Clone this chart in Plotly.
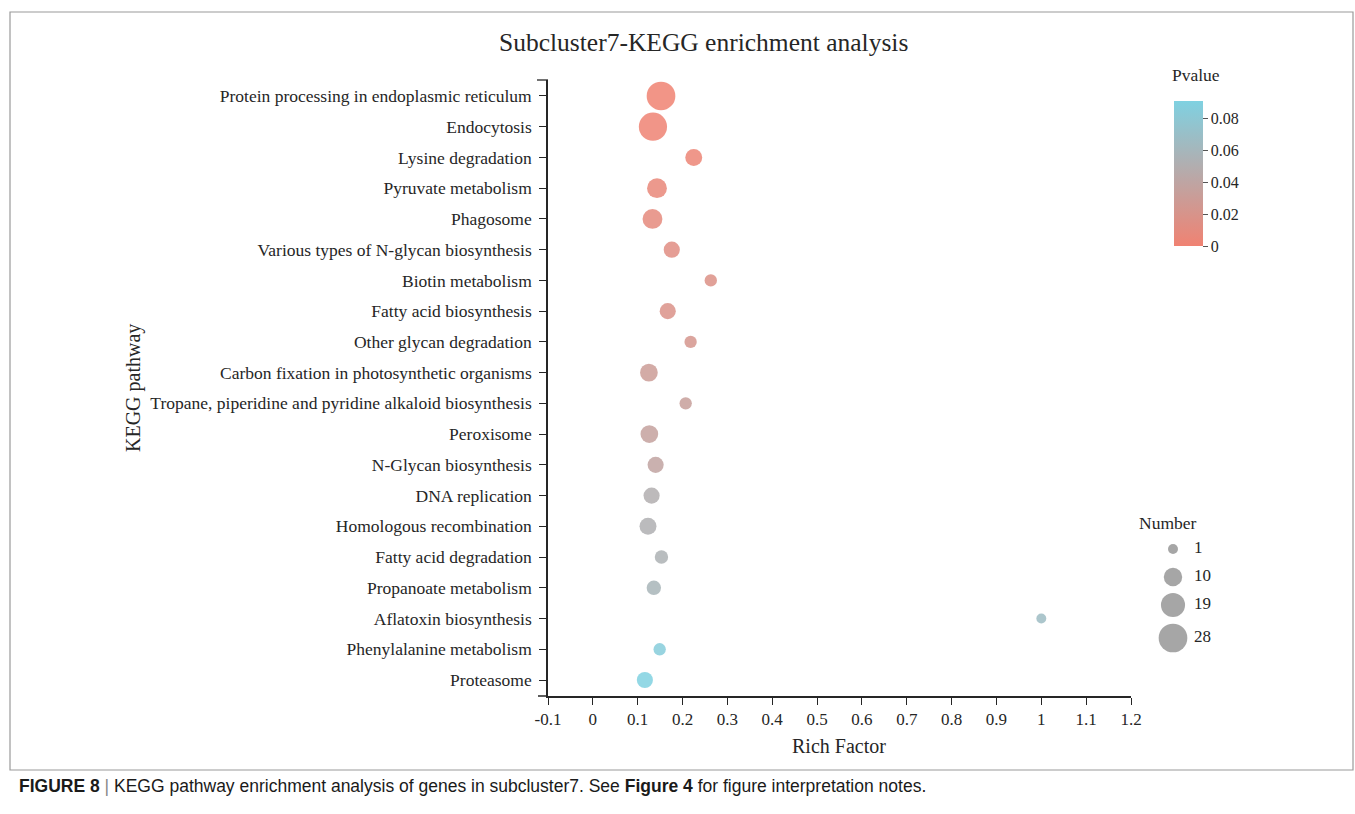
import plotly.graph_objects as go

W, H = 1355, 814

# ---------------- data (top to bottom as in the chart) ----------------
pathways = [
    "Protein processing in endoplasmic reticulum",
    "Endocytosis",
    "Lysine degradation",
    "Pyruvate metabolism",
    "Phagosome",
    "Various types of N-glycan biosynthesis",
    "Biotin metabolism",
    "Fatty acid biosynthesis",
    "Other glycan degradation",
    "Carbon fixation in photosynthetic organisms",
    "Tropane, piperidine and pyridine alkaloid biosynthesis",
    "Peroxisome",
    "N-Glycan biosynthesis",
    "DNA replication",
    "Homologous recombination",
    "Fatty acid degradation",
    "Propanoate metabolism",
    "Aflatoxin biosynthesis",
    "Phenylalanine metabolism",
    "Proteasome",
]
rich_factor = [0.152, 0.134, 0.225, 0.143, 0.133, 0.176, 0.263, 0.167, 0.218, 0.125,
               0.207, 0.126, 0.140, 0.131, 0.123, 0.153, 0.136, 1.000, 0.149, 0.116]
gene_number = [28, 27, 8, 12, 12, 7, 3, 7, 3, 9,
               3, 9, 7, 7, 8, 4, 5, 1, 3, 7]
pvalue = [0.000, 0.001, 0.003, 0.006, 0.009, 0.013, 0.016, 0.018, 0.022, 0.030,
          0.033, 0.035, 0.038, 0.050, 0.052, 0.054, 0.058, 0.066, 0.085, 0.090]

x_ticks = [-0.1, 0, 0.1, 0.2, 0.3, 0.4, 0.5, 0.6, 0.7, 0.8, 0.9, 1, 1.1, 1.2]
x_tick_labels = ["-0.1", "0", "0.1", "0.2", "0.3", "0.4", "0.5", "0.6", "0.7", "0.8",
                 "0.9", "1", "1.1", "1.2"]
p_ticks = [0, 0.02, 0.04, 0.06, 0.08]
p_tick_labels = ["0", "0.02", "0.04", "0.06", "0.08"]
legend_numbers = [1, 10, 19, 28]

# ---------------- styling helpers ----------------
SERIF = "Liberation Serif, Times New Roman, serif"
SANS = "Liberation Sans, Arial, sans-serif"
TXT = "#262626"
AX = "#262626"
COLORSCALE = [[0, "#F08272"], [1, "#7FD1E1"]]
P_MAX = 0.0905


def bubble_diameter(n):
    # area grows linearly with gene number
    return (72 + 26.8 * n) ** 0.5


def px_x(p):
    return p / W


def px_y(p):
    return 1 - p / H


# plot area in pixels
PL, PR, PT, PB = 548, 1131, 80, 696

fig = go.Figure()

cats = pathways[::-1]
fig.add_trace(go.Scatter(
    x=rich_factor[::-1],
    y=cats,
    mode="markers",
    marker=dict(
        size=[bubble_diameter(n) for n in gene_number[::-1]],
        sizemode="diameter",
        color=pvalue[::-1],
        colorscale=COLORSCALE,
        cmin=0, cmax=P_MAX,
        opacity=0.85,
        line=dict(width=0),
        showscale=True,
        colorbar=dict(
            x=px_x(1174), xanchor="left", xpad=0,
            y=px_y(101.5), yanchor="top", ypad=0,
            lenmode="pixels", len=145,
            thickness=29,
            outlinewidth=0,
            tickmode="array", tickvals=p_ticks, ticktext=p_tick_labels,
            ticks="outside", ticklen=5, tickcolor="#555",
            tickfont=dict(family=SERIF, size=16, color=TXT),
        ),
    ),
    hovertemplate="%{y}<br>Rich Factor %{x}<extra></extra>",
    showlegend=False,
    xaxis="x", yaxis="y",
))

# size legend (own small axes in pixel units)
LEG_Y = [549, 577, 605, 638]
fig.add_trace(go.Scatter(
    x=[1173] * len(legend_numbers),
    y=LEG_Y,
    mode="markers",
    marker=dict(size=[bubble_diameter(n) for n in legend_numbers], sizemode="diameter",
                color="#808080", line=dict(width=0)),
    showlegend=False, hoverinfo="skip",
    xaxis="x2", yaxis="y2",
))
fig.add_trace(go.Scatter(
    x=[1194] * len(legend_numbers),
    y=LEG_Y,
    mode="text",
    text=[str(v) for v in legend_numbers],
    textposition="middle right",
    textfont=dict(family=SERIF, size=17, color=TXT),
    showlegend=False, hoverinfo="skip",
    xaxis="x2", yaxis="y2",
))

fig.update_layout(
    width=W, height=H,
    autosize=False,
    margin=dict(l=0, r=0, t=0, b=0, autoexpand=False),
    paper_bgcolor="white", plot_bgcolor="white",
    xaxis=dict(
        domain=[px_x(PL), px_x(PR)],
        range=[-0.1, 1.2],
        tickmode="array", tickvals=x_ticks, ticktext=x_tick_labels,
        ticks="outside", ticklen=7, tickwidth=1.3, tickcolor=AX,
        showline=True, linecolor=AX, linewidth=1.5,
        showgrid=False, zeroline=False,
        tickfont=dict(family=SERIF, size=17, color=TXT),
        anchor="y",
    ),
    yaxis=dict(
        domain=[px_y(PB), px_y(PT)],
        type="category",
        categoryorder="array", categoryarray=cats,
        range=[-0.52, len(cats) - 1 + 0.52],
        ticks="outside", ticklen=7, tickwidth=1.3, tickcolor=AX,
        showline=True, linecolor=AX, linewidth=1.5,
        showgrid=False, zeroline=False,
        tickfont=dict(family=SERIF, size=17.5, color=TXT),
        ticklabelstandoff=4,
        anchor="x",
    ),
    xaxis2=dict(domain=[px_x(1140), px_x(1260)], range=[1140, 1260],
                visible=False, anchor="y2"),
    yaxis2=dict(domain=[px_y(660), px_y(530)], range=[660, 530],
                visible=False, anchor="x2"),
    shapes=[
        # figure frame
        dict(type="rect", xref="paper", yref="paper",
             x0=px_x(10), x1=px_x(1353), y0=px_y(770), y1=px_y(12),
             line=dict(color="#9a9a9a", width=1.2), fillcolor="rgba(0,0,0,0)", layer="below"),
        # end tick at top of y axis
        dict(type="line", xref="paper", yref="paper",
             x0=px_x(PL - 11), x1=px_x(PL), y0=px_y(PT), y1=px_y(PT),
             line=dict(color=AX, width=1.3)),
        # x axis line extension to the left
        dict(type="line", xref="paper", yref="paper",
             x0=px_x(PL - 10), x1=px_x(PL), y0=px_y(PB), y1=px_y(PB),
             line=dict(color=AX, width=1.5)),
    ],
    annotations=[
        dict(text="Subcluster7-KEGG enrichment analysis", xref="paper", yref="paper",
             x=px_x(704), y=px_y(42), xanchor="center", yanchor="middle", showarrow=False,
             font=dict(family=SERIF, size=25.5, color=TXT)),
        dict(text="Rich Factor", xref="paper", yref="paper",
             x=px_x(839), y=px_y(746), xanchor="center", yanchor="middle", showarrow=False,
             font=dict(family=SERIF, size=20, color=TXT)),
        dict(text="KEGG pathway", xref="paper", yref="paper", textangle=-90,
             x=px_x(133), y=px_y(388), xanchor="center", yanchor="middle", showarrow=False,
             font=dict(family=SERIF, size=20, color=TXT)),
        dict(text="Pvalue", xref="paper", yref="paper",
             x=px_x(1196), y=px_y(75), xanchor="center", yanchor="middle", showarrow=False,
             font=dict(family=SERIF, size=17.5, color=TXT)),
        dict(text="Number", xref="paper", yref="paper",
             x=px_x(1168), y=px_y(523), xanchor="center", yanchor="middle", showarrow=False,
             font=dict(family=SERIF, size=17.5, color=TXT)),
        dict(text="<b>FIGURE 8</b> <span style='color:#888'>|</span> KEGG pathway enrichment analysis of genes in subcluster7. See <b>Figure 4</b> for figure interpretation notes.",
             xref="paper", yref="paper",
             x=px_x(17), y=px_y(786), xanchor="left", yanchor="middle", showarrow=False,
             font=dict(family=SANS, size=17.5, color="#1a1a1a")),
    ],
)

fig.write_html(
    "out.html",
    config={"displayModeBar": False},
    post_script="document.body.style.margin='0';document.body.style.overflow='hidden';",
)
